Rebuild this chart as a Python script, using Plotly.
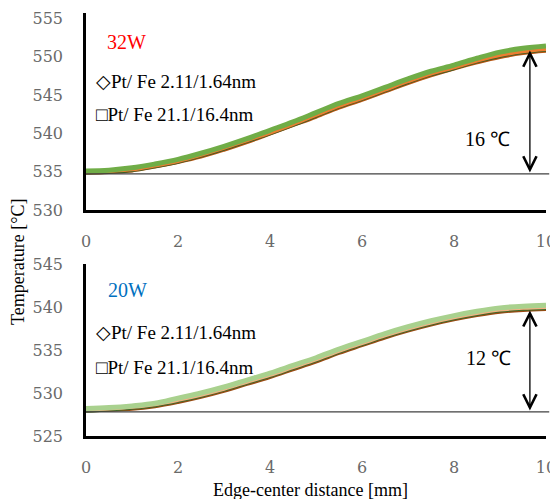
import plotly.graph_objects as go
from plotly.subplots import make_subplots

# ---------------- data ----------------
x_mm = [0, 0.5, 1, 1.5, 2, 2.5, 3, 3.5, 4, 4.5, 5, 5.5, 6, 6.5, 7, 7.5, 8, 8.5, 9, 9.5, 10]

# 32 W panel
t32_green = [535.1, 535.2, 535.5, 536.0, 536.6, 537.4, 538.3, 539.3, 540.4, 541.5, 542.7,
             543.9, 544.9, 546.0, 547.1, 548.1, 548.9, 549.8, 550.6, 551.1, 551.4]
t32_orange = [535.0, 535.1, 535.3, 535.8, 536.4, 537.2, 538.1, 539.1, 540.1, 541.2, 542.4,
              543.6, 544.6, 545.7, 546.8, 547.8, 548.6, 549.5, 550.2, 550.7, 551.0]
t32_dkgreen = [534.8, 534.9, 535.1, 535.6, 536.2, 537.0, 537.9, 538.9, 539.9, 541.0, 542.2,
               543.4, 544.4, 545.5, 546.6, 547.6, 548.4, 549.3, 550.0, 550.5, 550.8]
t32_brown = [534.8, 534.9, 535.1, 535.6, 536.2, 536.9, 537.8, 538.8, 539.9, 541.0, 542.1,
             543.3, 544.3, 545.4, 546.5, 547.5, 548.4, 549.2, 549.9, 550.4, 550.7]
base32 = 534.7
top32 = 550.8

# 20 W panel
t20_green = [528.2, 528.3, 528.5, 528.8, 529.4, 530.0, 530.7, 531.5, 532.3, 533.2, 534.1,
             535.1, 536.0, 536.9, 537.7, 538.4, 539.0, 539.5, 539.9, 540.1, 540.2]
t20_orange = [528.1, 528.2, 528.4, 528.7, 529.2, 529.8, 530.5, 531.3, 532.1, 533.0, 533.9,
              534.9, 535.8, 536.7, 537.5, 538.2, 538.8, 539.3, 539.7, 539.9, 540.0]
t20_dkgreen = [527.85, 528.0, 528.2, 528.5, 529.0, 529.6, 530.3, 531.1, 531.9, 532.8, 533.7,
               534.7, 535.6, 536.5, 537.3, 538.0, 538.6, 539.1, 539.5, 539.7, 539.8]
t20_brown = [527.9, 528.0, 528.1, 528.4, 528.9, 529.5, 530.2, 531.0, 531.8, 532.7, 533.6,
             534.6, 535.5, 536.4, 537.2, 537.9, 538.5, 539.0, 539.4, 539.6, 539.7]
base20 = 527.8
top20 = 539.6

x_ticks = [0, 2, 4, 6, 8, 10]
y_ticks_32 = [530, 535, 540, 545, 550, 555]
y_ticks_20 = [525, 530, 535, 540, 545]

legend_1 = "◇Pt/ Fe 2.11/1.64nm"
legend_2 = "□Pt/ Fe 21.1/16.4nm"

# ---------------- figure ----------------
fig = make_subplots(rows=2, cols=1, shared_xaxes=False, vertical_spacing=0.1)

def add_series(row, ys, colors, widths):
    for y, c, w in zip(ys, colors, widths):
        fig.add_trace(go.Scatter(x=x_mm, y=y, mode="lines", line=dict(color=c, width=w, shape="spline"),
                                 showlegend=False, hoverinfo="skip"), row=row, col=1)

add_series(1, [t32_brown, t32_dkgreen, t32_orange, t32_green],
           ["#B85410", "#3B5E27", "#ED7D31", "#70AD47"], [3, 2.5, 4, 5])
add_series(2, [t20_brown, t20_dkgreen, t20_orange, t20_green],
           ["#9A4A12", "#3F6A2A", "#F4B183", "#A9D18E"], [3, 2.5, 4, 5])

serif = "Liberation Serif"
tickfont = dict(family="DejaVu Serif", size=16, color="#6a6a6a")

# page has an 8px body margin: figure is placed at (8, 8) in the window
OFF = 8
W, HH = 558 - OFF, 499 - OFF
L, T = 86 - OFF, 13 - OFF
R = W - (546 - OFF)
B = HH - (436 - OFF)
H = HH - T - B
PW = W - L - R
dom_top = [(436 - 210) / H, 1.0]
dom_bot = [0.0, (436 - 264) / H]

axis_common = dict(showline=True, linecolor="black", linewidth=2.5, showgrid=False, zeroline=False,
                   ticks="", tickfont=tickfont, automargin=False)

fig.update_xaxes(range=[0, 10], tickvals=x_ticks, ticklabelstandoff=15, **axis_common)
fig.update_yaxes(ticklabelstandoff=17, **axis_common)
fig.update_yaxes(range=[530, 555.7], tickvals=y_ticks_32, domain=dom_top, row=1, col=1)
fig.update_yaxes(range=[525, 545], tickvals=y_ticks_20, domain=dom_bot, row=2, col=1)

# baselines
for yref, b in [("y", base32), ("y2", base20)]:
    fig.add_shape(type="line", xref="paper", yref=yref, x0=0, x1=1.007, y0=b, y1=b,
                  line=dict(color="#404040", width=1.3), layer="above")

# double arrows
for xref, yref, y0, y1 in [("x", "y", base32, top32), ("x2", "y2", base20, top20)]:
    fig.add_annotation(x=9.65, y=y1, ax=9.65, ay=y0, xref=xref, yref=yref, axref=xref, ayref=yref,
                       text="", showarrow=True, arrowside="end+start", arrowhead=5, arrowsize=2.0,
                       arrowwidth=1.3, arrowcolor="black", startarrowhead=5, startarrowsize=2.0)

texts = [
    ("x", "y", 0.87, 551.9, "32W", "#FF0000", "center", 20),
    ("x2", "y2", 0.91, 542.0, "20W", "#0070C0", "center", 20),
    ("x", "y", 0.18, 546.7, legend_1, "black", "left", 19),
    ("x", "y", 0.18, 542.5, legend_2, "black", "left", 19),
    ("x2", "y2", 0.18, 537.0, legend_1, "black", "left", 19),
    ("x2", "y2", 0.18, 533.0, legend_2, "black", "left", 19),
    ("x", "y", 8.72, 539.2, "16 ℃", "black", "center", 20),
    ("x2", "y2", 8.74, 534.1, "12 ℃", "black", "center", 20),
]
for xref, yref, xv, yv, t, c, anc, sz in texts:
    fig.add_annotation(x=xv, y=yv, xref=xref, yref=yref, text=t, showarrow=False,
                       xanchor=anc, yanchor="middle", font=dict(family=serif, size=sz, color=c))

# axis titles (positions given in window pixels, converted to plot-area paper coords)
def px_to_paper(px_x, px_y):
    fx, fy = px_x - OFF, px_y - OFF
    return (fx - L) / PW, (HH - B - fy) / H

ytx, yty = px_to_paper(18, 262)
fig.add_annotation(x=ytx, y=yty, xref="paper", yref="paper", xanchor="center", yanchor="middle",
                   text="Temperature [°C]", textangle=-90, showarrow=False,
                   font=dict(family=serif, size=18, color="black"))
xtx, xty = px_to_paper(310, 490)
fig.add_annotation(x=xtx, y=xty, xref="paper", yref="paper", xanchor="center", yanchor="middle",
                   text="Edge-center distance [mm]", showarrow=False,
                   font=dict(family=serif, size=18, color="black"))

fig.update_layout(width=W, height=HH, margin=dict(l=L, r=R, t=T, b=B, autoexpand=False),
                  plot_bgcolor="white", paper_bgcolor="white", showlegend=False)

fig.write_html("out.html")
